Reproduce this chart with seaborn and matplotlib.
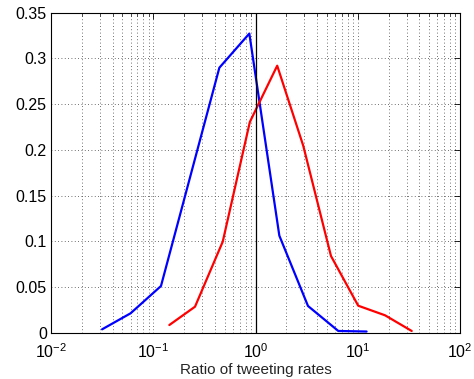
import matplotlib
matplotlib.use("Agg")
import matplotlib.pyplot as plt
import seaborn as sns
import pandas as pd
import numpy as np
from matplotlib.ticker import LogLocator, NullFormatter

blue_x = [0.0316, 0.060, 0.119, 0.443, 0.87, 1.71, 3.26, 6.45, 12.2]
blue_y = [0.004, 0.0215, 0.0513, 0.2897, 0.327, 0.1063, 0.0295, 0.0022, 0.0016]
red_x = [0.1436, 0.256, 0.478, 0.88, 1.63, 2.93, 5.47, 10.1, 18.5, 33.7]
red_y = [0.0087, 0.0287, 0.0997, 0.2304, 0.2919, 0.2045, 0.0841, 0.0298, 0.0193, 0.0022]

sns.set_style("white")
plt.rcParams['font.family'] = ['Liberation Sans', 'DejaVu Sans']
plt.rcParams['mathtext.fontset'] = 'custom'
plt.rcParams['mathtext.rm'] = 'Liberation Sans'
plt.rcParams['mathtext.it'] = 'Liberation Sans'

fig = plt.figure(figsize=(4.74, 3.79), dpi=100)
ax = fig.add_axes([0.1076, 0.1214, 0.8629, 0.8456])

dfb = pd.DataFrame({"x": blue_x, "y": blue_y})
dfr = pd.DataFrame({"x": red_x, "y": red_y})
sns.lineplot(data=dfb, x="x", y="y", ax=ax, color="#0000ff", lw=1.6, sort=False)
sns.lineplot(data=dfr, x="x", y="y", ax=ax, color="#ff0000", lw=1.6, sort=False)
ax.axvline(1.0, color="black", lw=0.9)

ax.set_xscale("log")
ax.set_xlim(1e-2, 1e2)
ax.set_ylim(0, 0.35)
ax.set_yticks([0, 0.05, 0.1, 0.15, 0.2, 0.25, 0.3, 0.35])
ax.set_yticklabels(["0", "0.05", "0.1", "0.15", "0.2", "0.25", "0.3", "0.35"])
ax.xaxis.set_major_locator(LogLocator(base=10, numticks=10))
ax.xaxis.set_minor_locator(LogLocator(base=10, subs=np.arange(2, 10), numticks=100))
ax.xaxis.set_minor_formatter(NullFormatter())

ax.grid(True, which="major", axis="both", linestyle=(0, (1, 3)), color="0.25", lw=0.6)
ax.grid(True, which="minor", axis="x", linestyle=(0, (1, 3)), color="0.25", lw=0.6)

ax.tick_params(which="both", direction="in", top=True, right=True, labelsize=11.5, colors="black")
ax.tick_params(which="major", length=4, width=0.6)
ax.tick_params(which="minor", length=2, width=0.5)
ax.tick_params(axis="x", which="major", pad=7)
ax.tick_params(axis="y", which="major", pad=3)
for s in ax.spines.values():
    s.set_color("black")
    s.set_linewidth(0.8)

ax.set_xlabel("Ratio of tweeting rates", fontsize=11, labelpad=1)
ax.set_ylabel("")

fig.savefig("out.png", dpi=100)
